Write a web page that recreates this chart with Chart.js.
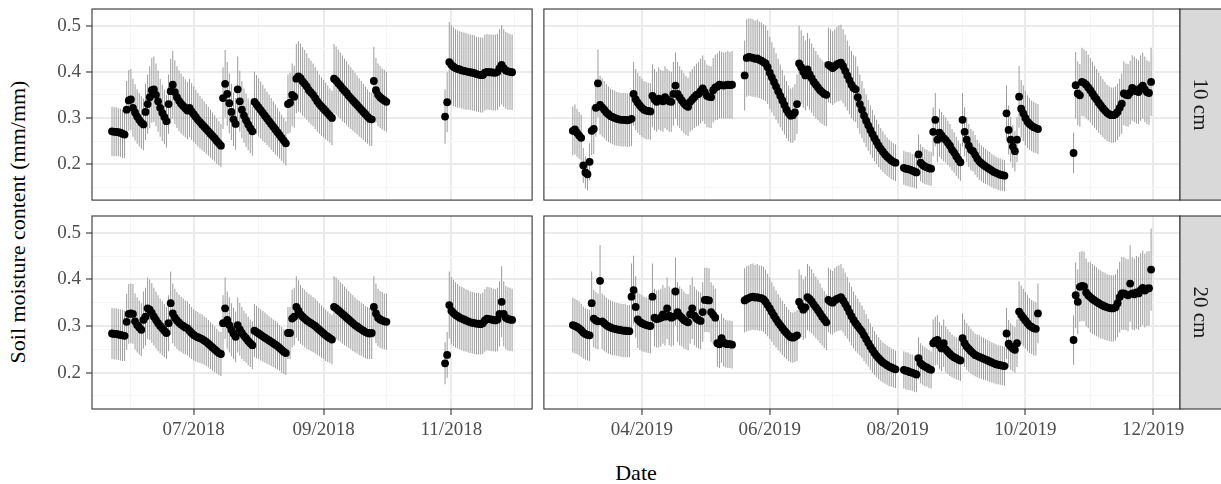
<!DOCTYPE html>
<html lang="en">
<head>
<meta charset="utf-8">
<title>Soil moisture content</title>
<script src="https://cdn.jsdelivr.net/npm/chart.js@4.4.1/dist/chart.umd.min.js"></script>
<style>
  html, body { margin: 0; padding: 0; background: #fff; }
  body { position: relative; width: 1221px; height: 484px; overflow: hidden; font-family: "Liberation Serif", "Times New Roman", serif; }
  canvas { position: absolute; }
  .title { position: absolute; color: #000; font-size: 22px; line-height: 26px; white-space: nowrap; text-align: center; }
  #ytitle { width: 400px; left: -182px; top: 209px; transform: rotate(-90deg); }
  #xtitle { width: 200px; left: 536px; top: 460px; }
</style>
</head>
<body>
<canvas id="p10_2018"></canvas>
<canvas id="p10_2019"></canvas>
<canvas id="p20_2018"></canvas>
<canvas id="p20_2019"></canvas>
<div class="title" id="ytitle">Soil moisture content (mm/mm)</div>
<div class="title" id="xtitle">Date</div>
<script>
const gap = n => new Array(n).fill(null);

const depths = ['10 cm', '20 cm'];
const start2018 = '2018-05-23';
const start2019 = '2019-02-27';

// axis breaks
const yBreaks = [0.2, 0.3, 0.4, 0.5];
const yMinor = [0.15, 0.25, 0.35, 0.45];
const yLimits = [0.122, 0.536];
const xBreaks2018 = ['2018-07-01', '2018-09-01', '2018-11-01'];
const xMinor2018 = ['2018-06-01', '2018-08-01', '2018-10-01', '2018-12-01'];
const xBreaks2019 = ['2019-04-01', '2019-06-01', '2019-08-01', '2019-10-01', '2019-12-01'];
const xMinor2019 = ['2019-03-01', '2019-05-01', '2019-07-01', '2019-09-01', '2019-11-01'];

// daily means, one line per month (null = no reading)
const soil10_2018 = [
  .271,.270,.270,.269,.268,.266,.264,.318,.338,
  .340,.322,.312,.303,.296,.290,.286,.313,.330,.345,.360,.362,.350,.336,.322,.311,.302,.293,.330,.358,.372,.356,.345,.337,.331,.326,.321,.316,.322,.314,
  .308,.302,.296,.291,.286,.281,.276,.271,.266,.261,.256,.250,.245,.240,.343,.374,.352,.332,.313,.297,.287,.362,.336,.318,.305,.295,.286,.278,.271,.335,.329,
  .323,.317,.311,.305,.299,.293,.287,.281,.275,.269,.263,.257,.251,.245,.330,.333,.350,.346,.385,.390,.386,.379,.374,.368,.360,.355,.350,.343,.336,.330,.325,
  .320,.315,.310,.305,.300,.385,.381,.375,.370,.364,.359,.354,.348,.343,.338,.333,.328,.323,.318,.313,.308,.303,.298,.297,.380,.360,.350,.345,.341,.338,
  .335,...gap(27),.303,.334,.421,
  .415,.411,.408,.406,.405,.403,.402,.401,.400,.399,.398,.397,.395,.394,.393,.393,.398,.400,.399,.399,.398,.398,.400,.408,.415,.408,.403,.401,.400,.399
];
const err10_2018 = [
  .053,.053,.053,.052,.052,.052,.051,.062,.066,
  .066,.063,.061,.059,.058,.057,.056,.061,.064,.067,.070,.071,.068,.066,.063,.061,.059,.057,.064,.070,.073,.069,.067,.066,.065,.064,.063,.062,.063,.061,
  .060,.059,.058,.057,.056,.055,.054,.053,.052,.051,.050,.049,.048,.047,.067,.073,.069,.065,.061,.058,.056,.071,.066,.062,.059,.058,.056,.054,.053,.065,.064,
  .063,.062,.061,.059,.058,.057,.056,.055,.054,.052,.051,.050,.049,.048,.064,.065,.068,.067,.075,.076,.075,.074,.073,.072,.070,.069,.068,.067,.066,.064,.063,
  .062,.061,.060,.059,.059,.075,.074,.073,.072,.071,.070,.069,.068,.067,.066,.065,.064,.063,.062,.061,.060,.059,.058,.058,.074,.070,.068,.067,.066,.066,
  .065,...gap(27),.059,.065,.087,
  .086,.085,.084,.084,.083,.083,.083,.083,.082,.082,.082,.082,.081,.081,.081,.081,.082,.082,.082,.082,.082,.082,.082,.084,.086,.084,.083,.083,.082,.082
];

const soil20_2018 = [
  .284,.283,.283,.282,.281,.280,.279,.309,.326,
  .327,.326,.310,.302,.297,.292,.313,.320,.338,.335,.328,.320,.313,.306,.300,.295,.290,.285,.306,.349,.327,.318,.312,.307,.303,.300,.297,.295,.290,.285,
  .281,.278,.276,.274,.272,.269,.266,.262,.258,.254,.250,.246,.242,.240,.306,.338,.313,.302,.292,.284,.277,.302,.293,.285,.279,.274,.268,.263,.259,.290,.287,
  .284,.281,.278,.275,.272,.269,.266,.263,.260,.257,.253,.249,.245,.242,.285,.285,.316,.320,.341,.333,.325,.320,.316,.312,.309,.306,.303,.300,.296,.292,.288,
  .284,.280,.277,.274,.271,.341,.338,.334,.330,.326,.322,.318,.314,.310,.306,.302,.299,.296,.293,.290,.287,.285,.284,.285,.341,.327,.318,.314,.312,.310,
  .309,...gap(27),.220,.238,.345,
  .333,.328,.324,.321,.318,.316,.314,.312,.310,.308,.307,.306,.305,.305,.304,.306,.312,.316,.315,.314,.313,.312,.314,.326,.352,.326,.318,.315,.314,.313
];
const err20_2018 = [
  .055,.055,.055,.055,.055,.055,.054,.060,.064,
  .064,.064,.060,.059,.058,.057,.061,.062,.066,.065,.064,.062,.061,.060,.059,.058,.057,.056,.060,.068,.064,.062,.061,.060,.059,.059,.058,.058,.057,.056,
  .055,.054,.054,.053,.053,.052,.052,.051,.050,.050,.049,.048,.047,.047,.060,.066,.061,.059,.057,.055,.054,.059,.057,.056,.054,.053,.052,.051,.051,.057,.056,
  .055,.055,.054,.054,.053,.052,.052,.051,.051,.050,.049,.049,.048,.047,.056,.056,.062,.062,.066,.065,.063,.062,.062,.061,.060,.060,.059,.059,.058,.057,.056,
  .055,.055,.054,.053,.053,.066,.066,.065,.064,.064,.063,.062,.061,.060,.060,.059,.058,.058,.057,.057,.056,.056,.055,.056,.066,.064,.062,.061,.061,.060,
  .060,...gap(27),.045,.049,.072,
  .072,.071,.070,.069,.068,.068,.068,.067,.067,.066,.066,.066,.066,.066,.065,.066,.067,.068,.068,.068,.067,.067,.068,.070,.076,.070,.068,.068,.068,.067
];

const soil10_2019 = [
  .272,.275,
  .268,.262,.257,.197,.182,.178,.205,.272,.276,.322,.375,.328,.323,.318,.312,.308,.304,.302,.300,.298,.297,.296,.296,.296,.295,.296,.298,.352,.340,.333,.327,
  .322,.318,.316,.315,.314,.348,.340,.335,.342,.338,.336,.345,.340,.336,.335,.352,.370,.352,.345,.338,.332,.327,.324,.335,.340,.345,.350,.352,.358,.364,
  .356,.348,.346,.345,.360,.366,.368,.372,.371,.370,.371,.372,.371,.372,...gap(5),.392,.430,.432,.431,.430,.428,.429,.426,.424,.421,.418,.410,
  .398,.388,.378,.368,.358,.348,.338,.328,.318,.310,.305,.306,.312,.330,.418,.410,.400,.392,.405,.395,.386,.378,.372,.366,.360,.356,.352,.350,.415,.412,
  .408,.412,.416,.418,.420,.412,.402,.392,.382,.372,.365,.362,.345,.330,.318,.305,.294,.284,.274,.265,.256,.248,.240,.233,.227,.221,.216,.212,.208,.205,.203,
  ...gap(3),.192,.190,.189,.188,.186,.184,.182,.221,.203,.198,.195,.193,.191,.190,.270,.296,.253,.268,.262,.256,.252,.246,.240,.231,.225,.217,.210,.204,
  .296,.270,.253,.240,.231,.228,.220,.212,.206,.202,.198,.195,.192,.189,.186,.183,.181,.179,.177,.176,.175,.310,.274,.253,.238,.228,.253,.346,.320,.310,
  .300,.292,.287,.283,.280,.278,.276,...gap(16),.224,.371,.353,.349,.378,.376,.372,.366,
  .360,.353,.346,.340,.333,.327,.321,.316,.311,.308,.306,.306,.308,.313,.322,.331,.353,.350,.349,.355,.365,.362,.358,.356,.365,.370,.362,.356,.354,.378
];
const err10_2019 = [
  .053,.054,
  .052,.051,.050,.038,.035,.035,.040,.053,.054,.063,.073,.064,.063,.062,.061,.060,.059,.059,.059,.058,.058,.058,.058,.058,.058,.058,.058,.069,.066,.065,.064,
  .063,.062,.062,.061,.061,.068,.066,.065,.067,.066,.066,.067,.066,.066,.065,.069,.072,.069,.067,.066,.065,.064,.063,.065,.066,.067,.068,.069,.070,.071,
  .069,.068,.067,.067,.070,.071,.072,.073,.072,.072,.072,.073,.072,.073,...gap(5),.076,.084,.084,.084,.084,.083,.084,.083,.083,.082,.082,.080,
  .078,.076,.074,.072,.070,.068,.066,.064,.062,.060,.059,.060,.061,.064,.082,.080,.078,.076,.079,.077,.075,.074,.073,.071,.070,.069,.069,.068,.081,.080,
  .080,.080,.081,.082,.082,.080,.078,.076,.074,.073,.071,.071,.067,.064,.062,.059,.057,.055,.053,.052,.050,.048,.047,.045,.044,.043,.042,.041,.041,.040,.040,
  ...gap(3),.037,.037,.037,.037,.036,.036,.035,.043,.040,.039,.038,.038,.037,.037,.053,.058,.049,.052,.051,.050,.049,.048,.047,.045,.044,.042,.041,.040,
  .058,.053,.049,.047,.045,.044,.043,.041,.040,.039,.039,.038,.037,.037,.036,.036,.035,.035,.035,.034,.034,.060,.053,.049,.046,.044,.049,.067,.062,.060,
  .059,.057,.056,.055,.055,.054,.054,...gap(16),.044,.072,.069,.068,.074,.073,.073,.071,
  .070,.069,.067,.066,.065,.064,.063,.062,.061,.060,.060,.060,.060,.061,.063,.065,.069,.068,.068,.069,.071,.071,.070,.069,.071,.072,.071,.069,.069,.074
];

const soil20_2019 = [
  .302,.300,
  .298,.295,.291,.286,.283,.281,.280,.349,.316,.312,.310,.397,.310,.306,.302,.299,.297,.295,.294,.293,.292,.291,.290,.290,.289,.289,.363,.377,.341,.314,.309,
  .306,.304,.302,.301,.300,.363,.318,.315,.316,.318,.325,.320,.338,.322,.318,.320,.374,.330,.322,.318,.313,.310,.308,.325,.338,.322,.316,.313,.311,.330,
  .356,.356,.355,.330,.324,.318,.263,.261,.274,.265,.262,.261,.261,.260,...gap(5),.355,.358,.360,.362,.363,.361,.362,.360,.360,.357,.352,.345,
  .338,.330,.322,.315,.308,.302,.296,.290,.285,.280,.276,.275,.277,.280,.352,.343,.335,.340,.362,.358,.353,.346,.340,.334,.327,.320,.314,.308,.356,.352,
  .350,.355,.358,.360,.362,.355,.347,.339,.330,.321,.313,.306,.300,.294,.288,.280,.272,.264,.256,.249,.242,.236,.231,.226,.222,.219,.216,.213,.211,.209,.207,
  ...gap(3),.206,.204,.203,.201,.200,.198,.196,.231,.220,.216,.213,.211,.208,.206,.263,.268,.270,.258,.252,.263,.250,.245,.240,.236,.233,.231,.228,.226,
  .274,.263,.256,.251,.246,.242,.238,.236,.234,.232,.230,.228,.226,.224,.222,.220,.218,.217,.216,.215,.214,.284,.262,.256,.252,.249,.263,.331,.324,.318,
  .312,.306,.301,.298,.295,.294,.327,...gap(16),.270,.366,.352,.384,.386,.385,.372,.366,
  .362,.358,.355,.352,.349,.346,.344,.342,.340,.339,.338,.338,.340,.349,.362,.370,.370,.368,.366,.391,.370,.368,.372,.370,.377,.382,.376,.380,.381,.421
];
const err20_2019 = [
  .059,.059,
  .058,.058,.057,.056,.055,.055,.055,.068,.062,.061,.060,.077,.060,.060,.059,.058,.058,.058,.057,.057,.057,.057,.057,.057,.056,.056,.071,.074,.066,.061,.060,
  .060,.059,.059,.059,.059,.071,.062,.061,.062,.062,.063,.062,.066,.063,.062,.062,.073,.064,.063,.062,.061,.060,.060,.063,.066,.063,.062,.061,.061,.064,
  .069,.069,.069,.064,.063,.062,.051,.051,.053,.052,.051,.051,.051,.051,...gap(5),.069,.070,.070,.071,.071,.070,.071,.070,.070,.070,.069,.067,
  .066,.064,.063,.061,.060,.059,.058,.057,.056,.055,.054,.054,.054,.055,.069,.067,.065,.066,.071,.070,.069,.067,.066,.065,.064,.062,.061,.060,.069,.069,
  .068,.069,.070,.070,.071,.069,.068,.066,.064,.063,.061,.060,.059,.057,.056,.055,.053,.051,.050,.049,.047,.046,.045,.044,.043,.043,.042,.042,.041,.041,.040,
  ...gap(3),.040,.040,.040,.039,.039,.039,.038,.045,.043,.042,.042,.041,.041,.040,.051,.052,.053,.050,.049,.051,.049,.048,.047,.046,.045,.045,.044,.044,
  .053,.051,.050,.049,.048,.047,.046,.046,.046,.045,.045,.044,.044,.044,.043,.043,.043,.042,.042,.042,.042,.055,.051,.050,.049,.049,.051,.065,.063,.062,
  .061,.060,.059,.058,.058,.057,.064,...gap(16),.053,.071,.069,.075,.075,.075,.073,.071,
  .076,.075,.075,.074,.073,.073,.072,.072,.071,.071,.071,.071,.071,.073,.076,.078,.078,.077,.077,.082,.078,.077,.078,.078,.079,.080,.079,.080,.080,.088
];

const day = s => Date.parse(s) / 864e5;
const tickFont = { family: "'Liberation Serif', 'Times New Roman', serif", size: 19 };
const tickColour = '#4d4d4d';

function monthLabel(v) {
  const d = new Date(Math.round(v) * 864e5);
  return String(d.getUTCMonth() + 1).padStart(2, '0') + '/' + d.getUTCFullYear();
}

function tickList(major, minor) {
  return major.map(v => ({ value: v, major: true }))
    .concat(minor.map(v => ({ value: v, major: false })))
    .sort((a, b) => a.value - b.value);
}

function gridStyle(showTicks) {
  return {
    color: c => (c.tick && c.tick.major ? '#ebebeb' : '#f5f5f5'),
    lineWidth: c => (c.tick && c.tick.major ? 2 : 1),
    drawTicks: showTicks,
    tickLength: 6,
    tickWidth: 1.1,
    tickColor: c => (c.tick && c.tick.major ? '#333333' : 'rgba(0,0,0,0)')
  };
}

// dark frame around each panel
const panelBorder = {
  id: 'panelBorder',
  afterDatasetsDraw(chart) {
    const { ctx, chartArea: a } = chart;
    ctx.save();
    ctx.strokeStyle = '#333333';
    ctx.lineWidth = 1.1;
    ctx.strokeRect(a.left, a.top, a.right - a.left, a.bottom - a.top);
    ctx.restore();
  }
};

// grey facet strip on the right of a row
const facetStrip = {
  id: 'facetStrip',
  afterDraw(chart, args, opts) {
    const { ctx, chartArea: a } = chart;
    const h = a.bottom - a.top;
    ctx.save();
    ctx.fillStyle = '#d9d9d9';
    ctx.fillRect(a.right, a.top, 42, h);
    ctx.strokeStyle = '#333333';
    ctx.lineWidth = 1.1;
    ctx.strokeRect(a.right, a.top, 42, h);
    ctx.translate(a.right + 20.5, (a.top + a.bottom) / 2);
    ctx.rotate(Math.PI / 2);
    ctx.fillStyle = '#1a1a1a';
    ctx.font = "21px 'Liberation Serif', 'Times New Roman', serif";
    ctx.textAlign = 'center';
    ctx.textBaseline = 'middle';
    ctx.fillText(opts.label, 0, 1);
    ctx.restore();
  }
};

function drawPanel(id, box, cfg) {
  const canvas = document.getElementById(id);
  canvas.width = box.w;
  canvas.height = box.h;
  canvas.style.left = box.x + 'px';
  canvas.style.top = box.y + 'px';

  const d0 = day(cfg.start);
  const points = [];
  const ranges = [];
  cfg.values.forEach((v, i) => {
    if (v === null) return;
    points.push({ x: d0 + i, y: v });
    ranges.push({ x: d0 + i, y: [v - cfg.errors[i], v + cfg.errors[i]] });
  });

  // ggplot-style 5% expansion of the date range
  const span = cfg.values.length - 1;
  const xTicks = tickList(cfg.breaks.map(day), cfg.minor.map(day));
  const yTicks = tickList(yBreaks, yMinor);

  const plugins = [panelBorder];
  if (cfg.strip) plugins.push(facetStrip);

  return new Chart(canvas, {
    type: 'scatter',
    data: {
      datasets: [
        {
          type: 'scatter',
          data: points,
          order: 0,
          pointRadius: 3.9,
          pointHoverRadius: 3.9,
          pointBackgroundColor: '#000000',
          pointBorderWidth: 0
        },
        {
          type: 'bar',
          data: ranges,
          order: 1,
          backgroundColor: '#9c9c9c',
          borderWidth: 0,
          barThickness: 1,
          maxBarThickness: 1,
          inflateAmount: 0,
          grouped: false
        }
      ]
    },
    options: {
      responsive: false,
      animation: false,
      events: [],
      layout: { padding: box.pad },
      plugins: {
        legend: { display: false },
        tooltip: { enabled: false },
        facetStrip: { label: cfg.strip || '' }
      },
      scales: {
        x: {
          type: 'linear',
          min: d0 - 0.05 * span,
          max: d0 + span * 1.05,
          offset: false,
          afterBuildTicks: s => { s.ticks = xTicks.map(t => ({ ...t })); },
          afterFit: s => {
            s.height = cfg.showX ? 36 : 0;
            s.paddingLeft = 0;
            s.paddingRight = 0;
          },
          grid: { ...gridStyle(cfg.showX), offset: false },
          border: { display: false },
          ticks: {
            display: cfg.showX,
            autoSkip: false,
            maxRotation: 0,
            padding: 4,
            color: tickColour,
            font: tickFont,
            callback: (v, i, t) => (t[i].major ? monthLabel(v) : '')
          }
        },
        y: {
          type: 'linear',
          min: yLimits[0],
          max: yLimits[1],
          afterBuildTicks: s => { s.ticks = yTicks.map(t => ({ ...t })); },
          afterFit: s => {
            s.width = cfg.showY ? 52 : 0;
            s.paddingTop = 0;
            s.paddingBottom = 0;
          },
          grid: gridStyle(cfg.showY),
          border: { display: false },
          ticks: {
            display: cfg.showY,
            autoSkip: false,
            padding: 5,
            color: tickColour,
            font: tickFont,
            callback: (v, i, t) => (t[i].major ? v.toFixed(1) : '')
          }
        }
      }
    },
    plugins
  });
}

drawPanel('p10_2018', { x: 40, y: 0, w: 496, h: 204, pad: { left: 0, top: 9, right: 2, bottom: 2 } },
  { start: start2018, values: soil10_2018, errors: err10_2018, breaks: xBreaks2018, minor: xMinor2018, showX: false, showY: true });
drawPanel('p10_2019', { x: 540, y: 0, w: 681, h: 204, pad: { left: 2, top: 9, right: 41, bottom: 2 } },
  { start: start2019, values: soil10_2019, errors: err10_2019, breaks: xBreaks2019, minor: xMinor2019, showX: false, showY: false, strip: depths[0] });
drawPanel('p20_2018', { x: 40, y: 205, w: 496, h: 240, pad: { left: 0, top: 11, right: 2, bottom: 0 } },
  { start: start2018, values: soil20_2018, errors: err20_2018, breaks: xBreaks2018, minor: xMinor2018, showX: true, showY: true });
drawPanel('p20_2019', { x: 540, y: 205, w: 681, h: 240, pad: { left: 2, top: 11, right: 41, bottom: 0 } },
  { start: start2019, values: soil20_2019, errors: err20_2019, breaks: xBreaks2019, minor: xMinor2019, showX: true, showY: false, strip: depths[1] });
</script>
</body>
</html>
